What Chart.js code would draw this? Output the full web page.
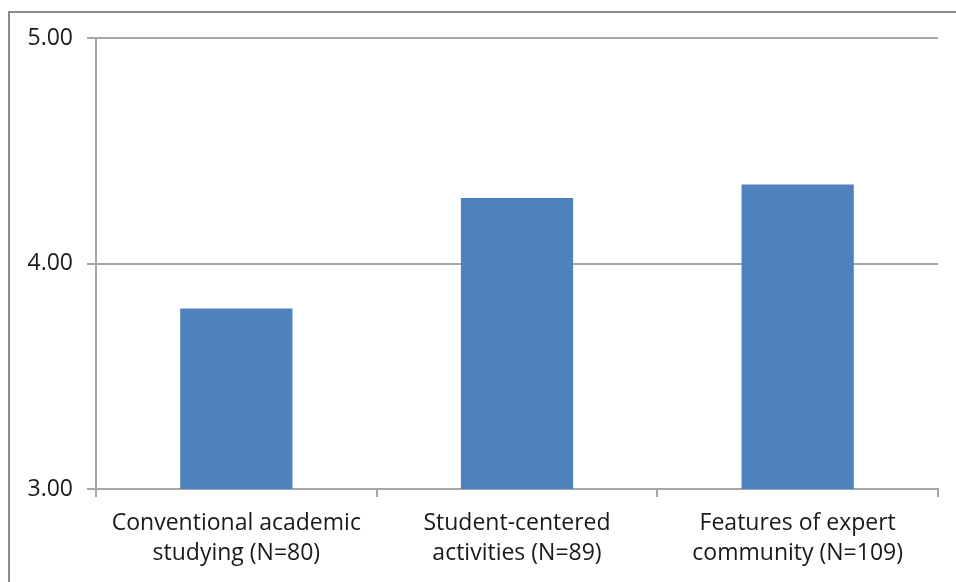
<!DOCTYPE html>
<html>
<head>
<meta charset="utf-8">
<script src="https://cdn.jsdelivr.net/npm/chart.js@4"></script>
<style>
  html, body { margin: 0; padding: 0; background: #fff; }
  #wrap { width: 956px; height: 582px; }
</style>
</head>
<body>
<div id="wrap"><canvas id="chart"></canvas></div>
<script>
var categories = [
    ['Conventional academic', 'studying (N=80)'],
    ['Student-centered', 'activities (N=89)'],
    ['Features of expert', 'community (N=109)']
];
var meanScores = [3.80, 4.29, 4.35];
var yTicks = [3, 4, 5];

// outer frame like the pasted spreadsheet chart
var framePlugin = {
    id: 'frame',
    beforeDraw: function(chart) {
        var c = chart.ctx;
        c.save();
        c.strokeStyle = '#8c8c8c';
        c.lineWidth = 2;
        c.strokeRect(9, 12, 1000, 700);
        c.restore();
    }
};

var ctx = document.getElementById('chart').getContext('2d');
new Chart(ctx, {
    type: 'bar',
    data: {
        labels: categories,
        datasets: [{
            data: meanScores,
            backgroundColor: '#4F81BD',
            borderWidth: 0,
            barPercentage: 0.4,
            categoryPercentage: 1
        }]
    },
    plugins: [framePlugin],
    options: {
        responsive: true,
        maintainAspectRatio: false,
        animation: false,
        layout: { padding: { left: 0, right: 18, top: 38, bottom: 0 } },
        plugins: {
            legend: { display: false },
            tooltip: { enabled: false }
        },
        scales: {
            x: {
                grid: {
                    offset: true,
                    drawOnChartArea: false,
                    tickLength: 8,
                    color: '#a6a6a6',
                    lineWidth: 2
                },
                border: { color: '#a6a6a6', width: 2 },
                ticks: {
                    color: '#1a1a1a',
                    font: { family: 'Open Sans', size: 23, lineHeight: 1.3 },
                    padding: 12,
                    maxRotation: 0
                },
                afterFit: function(scale) { scale.height = 93; }
            },
            y: {
                min: 3,
                max: 5,
                afterBuildTicks: function(scale) {
                    scale.ticks = yTicks.map(function(v) { return { value: v }; });
                },
                grid: {
                    color: '#a6a6a6',
                    lineWidth: 2,
                    tickLength: 9
                },
                border: { color: '#a6a6a6', width: 2 },
                ticks: {
                    color: '#1a1a1a',
                    font: { family: 'Open Sans', size: 23 },
                    padding: 14,
                    callback: function(v) { return v.toFixed(2); }
                },
                afterFit: function(scale) { scale.width = 96; }
            }
        }
    }
});
</script>
</body>
</html>
